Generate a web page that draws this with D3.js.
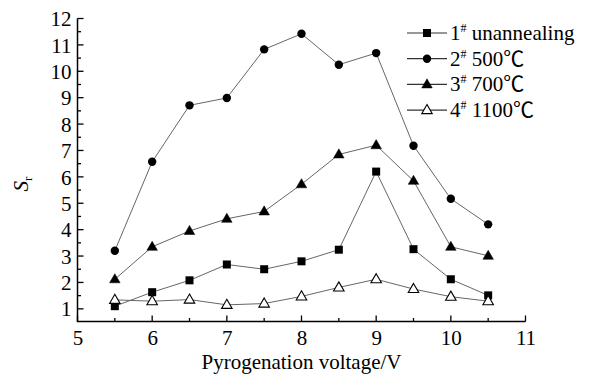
<!DOCTYPE html>
<meta charset="utf-8">
<html>
<head>
  <title>Sr vs pyrogenation voltage</title>
  <style>
    body { margin: 0; background: #fff; }
  </style>
</head>
<body>
<script src="https://d3js.org/d3.v7.min.js"></script>
<script>

// data
var voltage = [5.5, 6, 6.5, 7, 7.5, 8, 8.5, 9, 9.5, 10, 10.5];
var s1 = [1.1, 1.63, 2.08, 2.68, 2.5, 2.8, 3.24, 6.2, 3.26, 2.12, 1.51];       // 1# unannealing
var s2 = [3.2, 6.57, 8.71, 8.99, 10.83, 11.42, 10.25, 10.69, 7.18, 5.17, 4.2]; // 2# 500
var s3 = [2.12, 3.35, 3.95, 4.41, 4.69, 5.72, 6.85, 7.2, 5.85, 3.35, 3.01];    // 3# 700
var s4 = [1.34, 1.29, 1.35, 1.15, 1.2, 1.47, 1.81, 2.12, 1.75, 1.46, 1.29];    // 4# 1100
var names = ["unannealing", "500\u2103", "700\u2103", "1100\u2103"];
var nums = ["1", "2", "3", "4"];
var markers = ["square", "circle", "triangle", "opentri"];
var xTicks = [5, 6, 7, 8, 9, 10, 11];
var yTicks = [1, 2, 3, 4, 5, 6, 7, 8, 9, 10, 11, 12];

var width = 593, height = 377;
// the degree-celsius sign is missing from Liberation Serif, CJK font has a thin one
var serif = "'Liberation Serif', 'Noto Sans CJK SC', serif";

var svg = d3.select("body").append("svg")
    .attr("width", width)
    .attr("height", height)
    .style("font-family", serif);

var x = d3.scaleLinear().domain([5, 11]).range([77.5, 525.5]);
var y = d3.scaleLinear().domain([0.52, 12]).range([321.5, 18.5]);

// axes, ticks point inward (drawn separately below)
var xAxis = d3.axisBottom(x).tickValues(xTicks).tickSize(0).tickPadding(9).tickFormat(d3.format("d"));
var yAxis = d3.axisLeft(y).tickValues(yTicks).tickSize(0).tickPadding(6).tickFormat(d3.format("d"));

var gx = svg.append("g").attr("transform", "translate(0," + y.range()[0] + ")").call(xAxis);
var gy = svg.append("g").attr("transform", "translate(" + x.range()[0] + ",0)").call(yAxis);
gx.select(".domain").remove();
gy.select(".domain").remove();
svg.selectAll(".tick text")
    .attr("fill", "#000")
    .style("font-family", serif)
    .style("font-size", "21px");
gy.selectAll(".tick text").attr("dy", "0.34em");

// inner tick marks (major + minor)
var xMinor = d3.range(5, 11.01, 0.5);
var yMinor = d3.range(1, 12.01, 0.5);
svg.append("g").selectAll("line").data(xMinor).enter().append("line")
    .attr("x1", function(d){ return x(d); })
    .attr("x2", function(d){ return x(d); })
    .attr("y1", y.range()[0])
    .attr("y2", function(d){ return y.range()[0] - (d % 1 === 0 ? 6 : 3.5); })
    .attr("stroke", "#000").attr("stroke-width", 1.3);
svg.append("g").selectAll("line").data(yMinor).enter().append("line")
    .attr("y1", function(d){ return y(d); })
    .attr("y2", function(d){ return y(d); })
    .attr("x1", x.range()[0])
    .attr("x2", function(d){ return x.range()[0] + (d % 1 === 0 ? 6 : 3.5); })
    .attr("stroke", "#000").attr("stroke-width", 1.3);

// axis lines
svg.append("path")
    .attr("d", "M" + x.range()[0] + "," + y.range()[1] + "V" + y.range()[0] + "H" + x.range()[1])
    .attr("fill", "none").attr("stroke", "#000").attr("stroke-width", 1.5);

// axis titles
svg.append("text")
    .attr("x", (x.range()[0] + x.range()[1]) / 2)
    .attr("y", 369)
    .attr("text-anchor", "middle")
    .style("font-family", serif)
    .style("font-size", "21px")
    .text("Pyrogenation voltage/V");

var ylab = svg.append("text")
    .attr("transform", "translate(28,184) rotate(-90)")
    .attr("text-anchor", "middle")
    .style("font-family", serif)
    .style("font-size", "21px");
ylab.append("tspan").style("font-style", "italic").text("S");
ylab.append("tspan").style("font-size", "13px").attr("dy", 4).text("r");

// markers
function drawMarker(g, type, cx, cy) {
  if (type === "square") {
    g.append("rect").attr("x", cx - 4).attr("y", cy - 4).attr("width", 8).attr("height", 8).attr("fill", "#000");
  } else if (type === "circle") {
    g.append("circle").attr("cx", cx).attr("cy", cy).attr("r", 4.2).attr("fill", "#000");
  } else {
    var s = d3.symbol().type(d3.symbolTriangle).size(48);
    g.append("path").attr("d", s()).attr("transform", "translate(" + cx + "," + (cy + 0.5) + ")")
      .attr("fill", type === "triangle" ? "#000" : "#fff")
      .attr("stroke", "#000").attr("stroke-width", type === "triangle" ? 0.5 : 1.1);
  }
}

var line = d3.line()
    .x(function(d, i){ return x(voltage[i]); })
    .y(function(d){ return y(d); });

var allSeries = [s1, s2, s3, s4];
allSeries.forEach(function(series, k) {
  var g = svg.append("g");
  g.append("path").datum(series)
    .attr("d", line)
    .attr("fill", "none")
    .attr("stroke", "#666")
    .attr("stroke-width", 1);
  series.forEach(function(v, i) {
    drawMarker(g, markers[k], x(voltage[i]), y(v));
  });
});

// legend
var legend = svg.append("g");
names.forEach(function(n, k) {
  var ly = 33 + k * 25.7;
  var row = legend.append("g");
  row.append("line").attr("x1", 407).attr("x2", 447).attr("y1", ly).attr("y2", ly)
    .attr("stroke", "#333").attr("stroke-width", 1.2);
  drawMarker(row, markers[k], 427, ly);
  var t = row.append("text").attr("x", 450).attr("y", ly + 7)
    .style("font-family", serif).style("font-size", "21px");
  t.append("tspan").text(nums[k]);
  t.append("tspan").style("font-size", "12px").attr("dy", -8).text("#");
  t.append("tspan").attr("dy", 8).text(" " + n);
});

</script>
</body>
</html>
